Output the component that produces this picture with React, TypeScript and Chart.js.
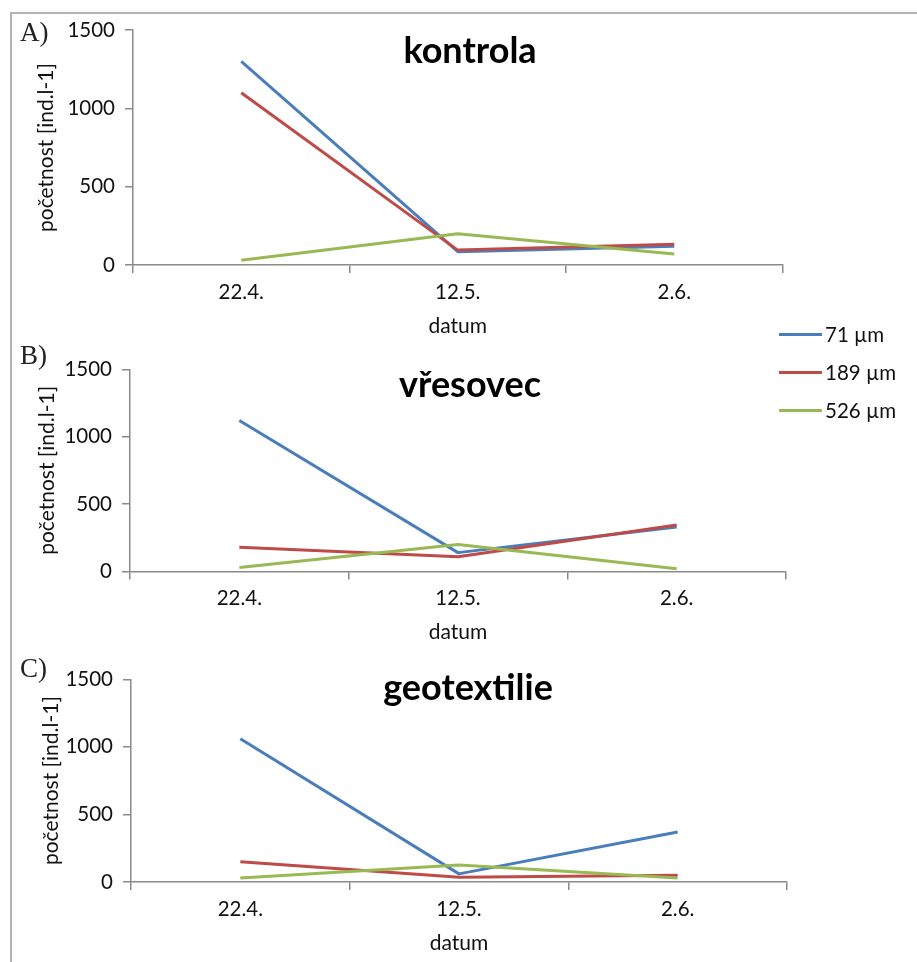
import React, { useEffect, useRef } from 'react';
import { Chart, registerables } from 'chart.js';

Chart.register(...registerables);

// ---- data ----
const categories = ['22.4.', '12.5.', '2.6.'];
const seriesNames = ['71 µm', '189 µm', '526 µm'];
const seriesColors = ['#4A7EBB', '#BE4B48', '#98B954'];
const yTickValues = [0, 500, 1000, 1500];
const yAxisTitle = 'početnost [ind.l-1]';
const xAxisTitle = 'datum';

const kontrola71 = [1300, 85, 120];
const kontrola189 = [1100, 95, 132];
const kontrola526 = [30, 200, 70];

const vresovec71 = [1120, 140, 330];
const vresovec189 = [180, 110, 345];
const vresovec526 = [30, 200, 20];

const geotextilie71 = [1060, 60, 370];
const geotextilie189 = [150, 35, 50];
const geotextilie526 = [30, 125, 30];

const panelTitles = ['kontrola', 'vřesovec', 'geotextilie'];
const panelLetters = ['A)', 'B)', 'C)'];
const panelSeries = [
  [kontrola71, kontrola189, kontrola526],
  [vresovec71, vresovec189, vresovec526],
  [geotextilie71, geotextilie189, geotextilie526],
];

// ---- layout (positions / sizes) ----
const W = 917;
const panels = [
  { top: 0, height: 345, pad: { top: 30, bottom: 2, left: 30, right: 134.5 }, xH: 78, yTitlePad: 3.5, titleX: 470, titleY: 63, letterY: 32 },
  { top: 340, height: 310, pad: { top: 29.3, bottom: 1.5, left: 27, right: 131 }, xH: 77, yTitlePad: 8, titleX: 470, titleY: 57, letterY: 355 },
  { top: 650, height: 312, pad: { top: 29.3, bottom: 2, left: 28, right: 130 }, xH: 78, yTitlePad: 10.5, titleX: 468, titleY: 50, letterY: 668 },
];
const legendRows = [334, 372, 410];

const FONT = 'Lato, "Open Sans", sans-serif';
const AXIS = '#8a8a8a';
const TICK_SIZE = 20.5;
const AXIS_TITLE_SIZE = 21;

const titlePlugin = {
  id: 'panelTitle',
  afterDraw(chart: any, _args: any, opts: any) {
    const { ctx } = chart;
    ctx.save();
    ctx.font = `bold 36px ${FONT}`;
    ctx.fillStyle = '#000';
    ctx.textAlign = 'center';
    ctx.textBaseline = 'alphabetic';
    ctx.fillText(opts.text, opts.x, opts.y);
    ctx.restore();
  },
};

function Panel({ idx }: { idx: number }) {
  const ref = useRef<HTMLCanvasElement | null>(null);
  const p = panels[idx];
  useEffect(() => {
    if (!ref.current) return;
    const data = panelSeries[idx];
    const chart = new Chart(ref.current, {
      type: 'line',
      data: {
        labels: categories,
        datasets: data.map((vals, i) => ({
          label: seriesNames[i],
          data: vals,
          borderColor: seriesColors[i],
          backgroundColor: seriesColors[i],
          borderWidth: 3,
          pointRadius: 0,
          tension: 0,
          borderJoinStyle: 'round' as const,
          order: 3 - i,
        })),
      },
      options: {
        animation: false,
        responsive: false,
        devicePixelRatio: 1,
        layout: { padding: p.pad },
        plugins: {
          legend: { display: false },
          tooltip: { enabled: false },
          title: { display: false },
          panelTitle: { text: panelTitles[idx], x: p.titleX, y: p.titleY },
        } as any,
        scales: {
          x: {
            type: 'category',
            offset: true,
            grid: { offset: true, drawOnChartArea: false, tickLength: 8, color: AXIS, lineWidth: 1.5 },
            border: { color: AXIS, width: 1.5 },
            ticks: { font: { family: FONT, size: TICK_SIZE }, color: '#111', padding: 7, maxRotation: 0 },
            title: { display: true, text: xAxisTitle, font: { family: FONT, size: AXIS_TITLE_SIZE }, color: '#111', padding: { top: 4, bottom: 4 } },
            afterFit: (s: any) => { s.height = p.xH; },
          },
          y: {
            type: 'linear',
            min: 0,
            max: 1500,
            afterBuildTicks: (s: any) => { s.ticks = yTickValues.map((v) => ({ value: v })); },
            grid: { drawOnChartArea: false, tickLength: 8, color: AXIS, lineWidth: 1.5 },
            border: { color: AXIS, width: 1.5 },
            ticks: { font: { family: FONT, size: TICK_SIZE }, color: '#111', padding: 10, callback: (v: any) => String(v) },
            title: { display: true, text: yAxisTitle, font: { family: FONT, size: AXIS_TITLE_SIZE }, color: '#111', padding: { top: p.yTitlePad, bottom: 0 } },
            afterFit: (s: any) => { s.width = 103; },
          },
        },
      },
      plugins: [titlePlugin],
    });
    return () => chart.destroy();
  }, [idx]);
  return (
    <canvas
      ref={ref}
      width={W}
      height={p.height}
      style={{ position: 'absolute', left: 0, top: p.top, width: W, height: p.height }}
    />
  );
}

export default function App() {
  return (
    <div style={{ position: 'absolute', left: 0, top: 0, width: W, height: 962, background: '#fff', overflow: 'hidden' }}>
      <div style={{ position: 'absolute', left: 10, top: 12, width: W - 10, height: 2, background: '#b4b4b4' }} />
      <div style={{ position: 'absolute', left: 10, top: 12, width: 2, height: 962, background: '#b4b4b4' }} />
      {panels.map((_, i) => (
        <Panel key={i} idx={i} />
      ))}
      {panels.map((p, i) => (
        <div
          key={'l' + i}
          style={{
            position: 'absolute', left: 20, top: p.letterY - 16, height: 32, lineHeight: '32px',
            fontFamily: '"Liberation Serif", serif', fontSize: 27, color: '#222',
          }}
        >
          {panelLetters[i]}
        </div>
      ))}
      {seriesNames.map((name, i) => (
        <div key={'g' + i} style={{ position: 'absolute', left: 779, top: legendRows[i] - 12, height: 24 }}>
          <div style={{ position: 'absolute', left: 0, top: 10.5, width: 43, height: 3, background: seriesColors[i] }} />
          <div style={{ position: 'absolute', left: 46, top: 0, lineHeight: '24px', whiteSpace: 'nowrap', fontFamily: FONT, fontSize: 20.5, color: '#111' }}>
            {name}
          </div>
        </div>
      ))}
    </div>
  );
}
